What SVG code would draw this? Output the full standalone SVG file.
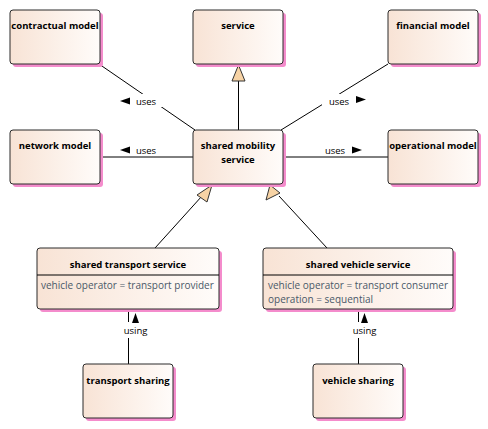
<svg xmlns="http://www.w3.org/2000/svg" width="488" height="429" viewBox="0 0 488 429">
<defs>
<linearGradient id="g" x1="0" y1="0" x2="1" y2="0">
<stop offset="0" stop-color="#f8e3d5"/>
<stop offset="1" stop-color="#fffcfa"/>
</linearGradient>
<style>
.sh{fill:#f48ccc}
.bx{fill:url(#g);stroke:#2b2b2b;stroke-width:1}
.t{font-family:"Open Sans","Liberation Sans",sans-serif;font-size:9.5px;font-weight:bold;fill:#000;text-anchor:middle}
.a{font-family:"Open Sans","Liberation Sans",sans-serif;font-size:10px;fill:#4a5868}
.l{font-family:"Open Sans","Liberation Sans",sans-serif;font-size:9.5px;fill:#000;text-anchor:middle}
.ln{stroke:#000;stroke-width:1;fill:none}
.gen{fill:#f7d3a5;stroke:#333;stroke-width:1}
.ar{fill:#000}
</style>
</defs>
<g id="connectors">
<line class="ln" x1="99" y1="64" x2="195" y2="130"/>
<line class="ln" x1="388" y1="64" x2="281" y2="130"/>
<line class="ln" x1="100" y1="157" x2="193" y2="157"/>
<line class="ln" x1="283" y1="157" x2="388" y2="157"/>
<line class="ln" x1="238.5" y1="130" x2="238.5" y2="81"/>
<polygon class="gen" points="238.5,65 232,81 245,81"/>
<line class="ln" x1="155" y1="248" x2="202" y2="196"/>
<polygon class="gen" points="212,185 197,195 207,202"/>
<line class="ln" x1="327" y1="248" x2="279" y2="196"/>
<polygon class="gen" points="270,185 266,200 280,193"/>
<line class="ln" x1="128.5" y1="364" x2="128.5" y2="309"/>
<line class="ln" x1="358.5" y1="364" x2="358.5" y2="309"/>
<rect x="114" y="94" width="48" height="13" fill="#fff"/>
<polygon class="ar" points="120,101 130,97.5 130,104.5"/>
<text class="l" x="146" y="104.5">uses</text>
<rect x="322" y="94" width="48" height="13" fill="#fff"/>
<text class="l" x="339" y="104.5">uses</text>
<polygon class="ar" points="366,99.5 356,96 356,103"/>
<rect x="114" y="143" width="48" height="12" fill="#fff"/>
<polygon class="ar" points="120,150 130,146.5 130,153.5"/>
<text class="l" x="146" y="153.5">uses</text>
<polygon class="ar" points="362,150 352,146.5 352,153.5"/>
<text class="l" x="335" y="153.5">uses</text>
<rect x="121" y="322" width="29" height="16" fill="#fff"/>
<polygon class="ar" points="135.5,313 132,323 139,323"/>
<text class="l" x="135.5" y="333.5">using</text>
<rect x="351" y="322" width="29" height="16" fill="#fff"/>
<polygon class="ar" points="364.5,313 361,323 368,323"/>
<text class="l" x="364.5" y="333.5">using</text>
</g>
<g id="contractual-model">
<rect class="sh" x="13" y="13" width="90" height="54" rx="3"/>
<rect class="bx" x="10" y="10" width="90" height="54" rx="3"/>
<text class="t" x="55" y="29">contractual model</text>
</g>
<g id="service">
<rect class="sh" x="196" y="13" width="90" height="54" rx="3"/>
<rect class="bx" x="193" y="10" width="90" height="54" rx="3"/>
<text class="t" x="238" y="29">service</text>
</g>
<g id="financial-model">
<rect class="sh" x="391" y="13" width="90" height="54" rx="3"/>
<rect class="bx" x="388" y="10" width="90" height="54" rx="3"/>
<text class="t" x="433" y="29">financial model</text>
</g>
<g id="network-model">
<rect class="sh" x="13" y="133" width="90" height="54" rx="3"/>
<rect class="bx" x="10" y="130" width="90" height="54" rx="3"/>
<text class="t" x="55" y="149">network model</text>
</g>
<g id="shared-mobility-service">
<rect class="sh" x="196" y="133" width="90" height="54" rx="3"/>
<rect class="bx" x="193" y="130" width="90" height="54" rx="3"/>
<text class="t" x="238" y="149">shared mobility</text>
<text class="t" x="238" y="162.5">service</text>
</g>
<g id="operational-model">
<rect class="sh" x="391" y="133" width="90" height="54" rx="3"/>
<rect class="bx" x="388" y="130" width="90" height="54" rx="3"/>
<text class="t" x="433" y="149">operational model</text>
</g>
<g id="shared-transport-service">
<rect class="sh" x="40" y="251" width="182" height="61" rx="3"/>
<rect class="bx" x="37" y="248" width="182" height="61" rx="3"/>
<line class="ln" x1="37" y1="275" x2="219" y2="275" stroke="#2b2b2b"/>
<text class="t" x="128" y="267.5">shared transport service</text>
<text class="a" x="41" y="289">vehicle operator = transport provider</text>
</g>
<g id="shared-vehicle-service">
<rect class="sh" x="266" y="251" width="190" height="61" rx="3"/>
<rect class="bx" x="263" y="248" width="190" height="61" rx="3"/>
<line class="ln" x1="263" y1="275" x2="453" y2="275" stroke="#2b2b2b"/>
<text class="t" x="358" y="267.5">shared vehicle service</text>
<text class="a" x="268" y="289">vehicle operator = transport consumer</text>
<text class="a" x="268" y="302.5">operation = sequential</text>
</g>
<g id="transport-sharing">
<rect class="sh" x="86" y="367" width="90" height="54" rx="3"/>
<rect class="bx" x="83" y="364" width="90" height="54" rx="3"/>
<text class="t" x="128" y="383.5">transport sharing</text>
</g>
<g id="vehicle-sharing">
<rect class="sh" x="316" y="367" width="90" height="54" rx="3"/>
<rect class="bx" x="313" y="364" width="90" height="54" rx="3"/>
<text class="t" x="358" y="383.5">vehicle sharing</text>
</g>
</svg>
